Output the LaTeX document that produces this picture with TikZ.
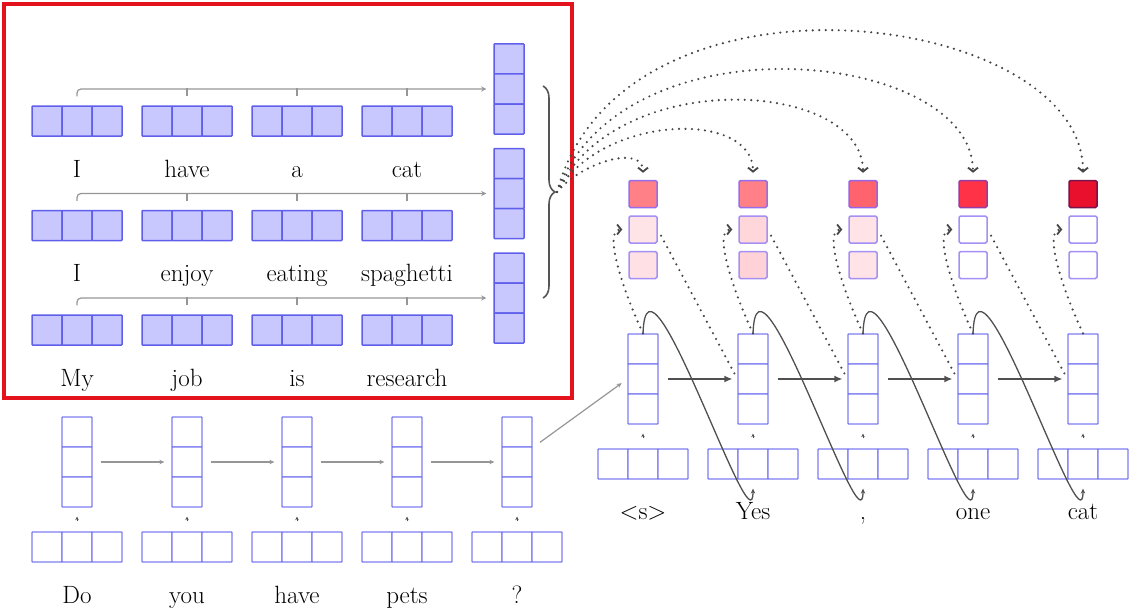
\documentclass[tikz,border=0pt]{standalone}
\usepackage{fontspec}
\usetikzlibrary{arrows.meta,decorations.pathreplacing,calc}

% palette
\definecolor{memfill}{RGB}{200,200,255}
\definecolor{memdraw}{RGB}{95,95,235}
\definecolor{rnndraw}{RGB}{125,125,242}
\definecolor{framered}{RGB}{228,18,28}
\definecolor{flowgray}{RGB}{150,150,150}
\definecolor{darkflow}{RGB}{80,80,80}
\definecolor{dotgray}{RGB}{70,70,70}
\definecolor{bracegray}{RGB}{85,85,85}
% attention weights: att-<step>-<slot>
\definecolor{att-1-1}{RGB}{255,128,134}
\definecolor{att-2-1}{RGB}{255,128,134}
\definecolor{att-3-1}{RGB}{255,100,110}
\definecolor{att-4-1}{RGB}{255,50,72}
\definecolor{att-5-1}{RGB}{232,16,44}
\definecolor{att-1-2}{RGB}{255,228,231}
\definecolor{att-2-2}{RGB}{255,215,219}
\definecolor{att-3-2}{RGB}{255,227,230}
\definecolor{att-4-2}{RGB}{255,255,255}
\definecolor{att-5-2}{RGB}{255,255,255}
\definecolor{att-1-3}{RGB}{255,224,228}
\definecolor{att-2-3}{RGB}{255,210,215}
\definecolor{att-3-3}{RGB}{255,227,230}
\definecolor{att-4-3}{RGB}{255,255,255}
\definecolor{att-5-3}{RGB}{255,255,255}
\definecolor{attline-1}{RGB}{150,110,235}
\definecolor{attline-2}{RGB}{150,110,235}
\definecolor{attline-3}{RGB}{150,100,230}
\definecolor{attline-4}{RGB}{150,60,165}
\definecolor{attline-5}{RGB}{120,20,75}
\definecolor{attlight}{RGB}{165,145,245}

\begin{document}
\begin{tikzpicture}[x=1pt,y=1pt,
  memcell/.style={rectangle, draw=memdraw, fill=memfill, line width=1.5pt,
    minimum width=30pt, minimum height=30pt, inner sep=0pt, rounded corners=0.6pt},
  rnncell/.style={rectangle, draw=rnndraw, fill=white, line width=1.3pt,
    minimum width=30pt, minimum height=30pt, inner sep=0pt, rounded corners=0.6pt},
  attbox/.style={rectangle, line width=1.5pt, minimum width=28pt, minimum height=27pt,
    inner sep=0pt, rounded corners=1.5pt},
  word/.style={anchor=base, inner sep=0pt, font=\fontsize{25}{30}\selectfont},
  rowline/.style={draw=flowgray, line width=1.2pt, rounded corners=4pt,
    -{Stealth[length=5pt,width=5pt]}, shorten >=7pt},
  rowtick/.style={draw=flowgray, line width=1.2pt},
  encarrow/.style={draw=flowgray, line width=1.2pt, -{Stealth[length=5pt,width=4.5pt]}},
  tinyarrow/.style={draw=darkflow, line width=0.8pt, -{Stealth[length=3.5pt,width=3.5pt]}},
  decarrow/.style={draw=darkflow, line width=1.4pt, -{Latex[length=8pt,width=7pt]},
    shorten <=9pt, shorten >=5pt},
  loopline/.style={draw=darkflow, line width=1.3pt, -{Stealth[length=5pt,width=4.5pt]}},
  dotline/.style={draw=dotgray, line width=2.4pt, line cap=round, dash pattern=on 0pt off 6.5pt},
  dottip/.style={-{Straight Barb[length=4pt,width=10pt,line width=1.8pt]}},
  bracepath/.style={draw=bracegray, line width=1.6pt,
    decorate, decoration={brace, amplitude=12pt}}
]
\useasboundingbox (0,0) rectangle (1130,-610);

% frame round the sentence memory
\draw[framered, line width=4pt] (4,-4) rectangle (572,-398);

% sentence memory: three sentences of four word vectors
\foreach \r/\yy in {1/121,2/225.5,3/330}{
  \foreach \c in {1,...,4}{
    \foreach \k in {1,2,3}{
      \node[memcell] (m-\r-\c-\k) at ({77+110*(\c-1)+30*(\k-2)}, -\yy) {};
    }
  }
}
\foreach \c/\w in {1/I,2/have,3/a,4/cat}
  \node[word] (ml-1-\c) at ({77+110*(\c-1)}, -177) {\w};
\foreach \c/\w in {1/I,2/enjoy,3/eating,4/spaghetti}
  \node[word] (ml-2-\c) at ({77+110*(\c-1)}, -281) {\w};
\foreach \c/\w in {1/My,2/job,3/is,4/research}
  \node[word] (ml-3-\c) at ({77+110*(\c-1)}, -386) {\w};

% sentence vectors
\foreach \r/\yy in {1/89,2/193.5,3/298}{
  \foreach \k in {1,2,3}{
    \node[memcell] (v-\r-\k) at (509, {-\yy-30*(\k-2)}) {};
  }
}

% pooling of each sentence into its vector
\foreach \r in {1,2,3}{
  \draw[rowline] ([yshift=9pt]m-\r-1-2.north) |- (v-\r-2.west);
  \foreach \c in {2,3,4}
    \draw[rowtick] ([yshift=9pt]m-\r-\c-2.north) -- ([yshift=17pt]m-\r-\c-2.north);
}

% brace grouping the memory
\draw[bracepath] (543,-86) -- (543,-298);
\coordinate (bt) at (557,-192);

% encoder
\foreach \c/\w in {1/Do,2/you,3/have,4/pets,5/?}{
  \foreach \k in {1,2,3}{
    \node[rnncell] (e-\c-\k) at ({77+110*(\c-1)}, {-462-30*(\k-2)}) {};
    \node[rnncell] (ew-\c-\k) at ({77+110*(\c-1)+30*(\k-2)}, -547) {};
  }
  \node[word] (el-\c) at ({77+110*(\c-1)}, -603) {\w};
  \draw[tinyarrow, shorten <=10pt, shorten >=9pt] (ew-\c-2.north) -- (e-\c-3.south);
}
\foreach \c in {1,...,4}{
  \pgfmathtruncatemacro{\nx}{\c+1}
  \draw[encarrow, shorten <=8pt, shorten >=7pt] (e-\c-2.east) -- (e-\nx-2.west);
}

% decoder and attention columns
\foreach \c/\w in {1/{$<$s$>$},2/Yes,3/{,},4/one,5/cat}{
  \foreach \k in {1,2,3}{
    \node[rnncell] (d-\c-\k) at ({643+110*(\c-1)}, {-379-30*(\k-2)}) {};
    \node[rnncell] (dw-\c-\k) at ({643+110*(\c-1)+30*(\k-2)}, -464) {};
  }
  \node[word] (dl-\c) at ({643+110*(\c-1)}, -519) {\w};
  \draw[tinyarrow, shorten <=10pt, shorten >=9pt] (dw-\c-2.north) -- (d-\c-3.south);
  \node[attbox, fill=att-\c-1, draw=attline-\c] (a-\c-1) at ({643+110*(\c-1)}, -194) {};
  \node[attbox, fill=att-\c-2, draw=attlight] (a-\c-2) at ({643+110*(\c-1)}, -229.5) {};
  \node[attbox, fill=att-\c-3, draw=attlight] (a-\c-3) at ({643+110*(\c-1)}, -265) {};
}

% encoder state handed to the decoder
\draw[encarrow, shorten <=9pt, shorten >=7pt] (e-5-1.south east) -- (d-1-2.west);

% decoder recurrence, feedback of generated words, attention reads
\foreach \c in {1,...,4}{
  \pgfmathtruncatemacro{\nx}{\c+1}
  \draw[dotline, shorten <=7pt, shorten >=6pt] (a-\c-2.east) -- (d-\nx-2.west);
  \draw[decarrow] (d-\c-2.east) -- (d-\nx-2.west);
  \draw[loopline] (d-\c-1.north) to[out=88, in=-90, out distance=108pt, in distance=67pt]
    ([yshift=-9pt]dw-\nx-2.south);
}
\foreach \c in {1,...,5}
  \draw[dotline, dottip, shorten >=6pt] (d-\c-1.north)
    to[out=115, in=180, out distance=50pt, in distance=25pt] (a-\c-2.west);

% memory read by every decoder step
\foreach \c/\ang/\od/\id in {1/50/40pt/35pt, 2/60/90pt/70pt, 3/65/140pt/100pt,
                             4/70/190pt/130pt, 5/75/250pt/170pt}
  \draw[dotline, dottip, shorten >=7pt] (bt)
    to[out=\ang, in=90, out distance=\od, in distance=\id] (a-\c-1.north);
\end{tikzpicture}
\end{document}
